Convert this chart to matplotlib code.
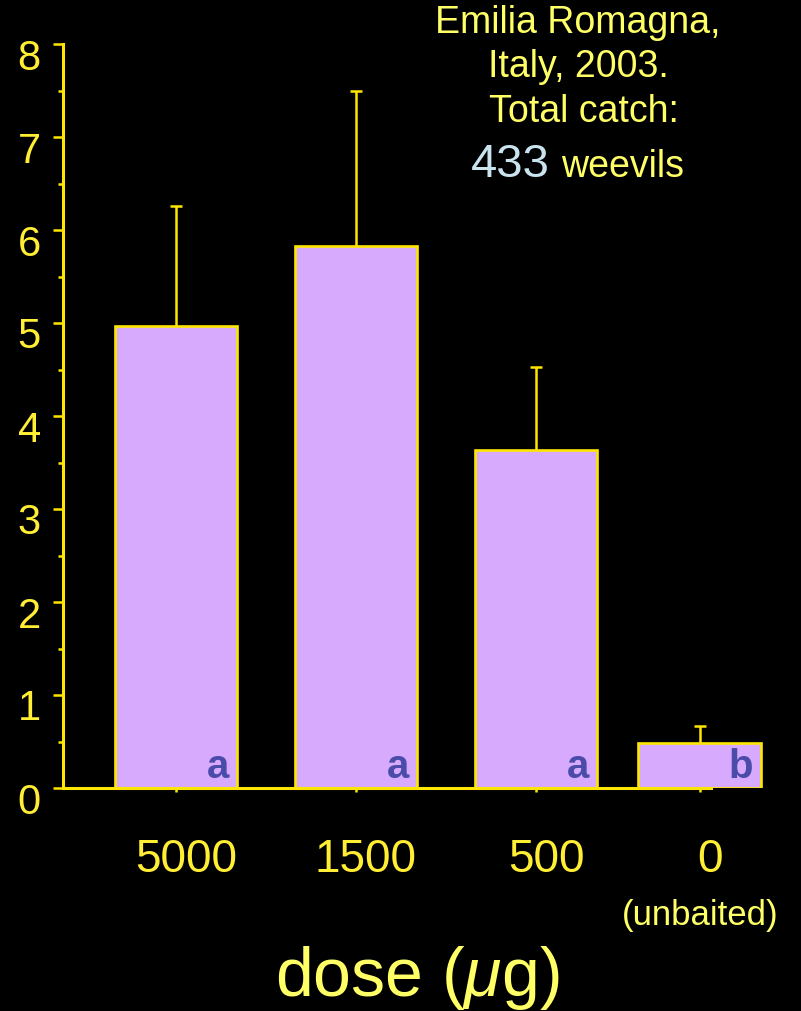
import matplotlib
matplotlib.use("Agg")
import matplotlib.pyplot as plt
import matplotlib.transforms as mtransforms

plt.rcParams['font.family'] = ['Liberation Sans', 'DejaVu Sans']
plt.rcParams['mathtext.fontset'] = 'custom'
plt.rcParams['mathtext.rm'] = 'Liberation Sans'
plt.rcParams['mathtext.it'] = 'Liberation Sans:italic'

doses = ["5000", "1500", "500", "0"]
mean_catch = [4.97, 5.83, 3.63, 0.48]
se_catch = [1.29, 1.66, 0.90, 0.19]
letters = ["a", "a", "a", "b"]

AXIS_YELLOW = "#FFE600"
TICK_YELLOW = "#FFEE33"
NOTE_YELLOW = "#FFFF66"
BAR_FILL = "#D7AAFE"
LETTER_BLUE = "#4B4BAA"

W, H = 801, 1012
x_pos = [0, 1, 2, 2.91]
bar_width = 0.683


def fx(px):
    return px / W


def fy(py):
    return 1 - py / H


fig = plt.figure(figsize=(W / 100, H / 100), dpi=100, facecolor="black")
ax = fig.add_axes([fx(63), fy(789), (780 - 63) / W, (789 - 45) / H])
ax.set_facecolor("black")

ax.bar(x_pos, mean_catch, width=bar_width, color=BAR_FILL,
       edgecolor=AXIS_YELLOW, linewidth=1.9, zorder=2)

eb = ax.errorbar(x_pos, mean_catch, yerr=[[0] * 4, se_catch], fmt="none",
                 ecolor=AXIS_YELLOW, elinewidth=1.8, capsize=4, capthick=1.8,
                 zorder=3)
# keep only the upper caps
for cap in eb[1]:
    if list(cap.get_ydata()) == list(mean_catch):
        cap.set_visible(False)

for x, letter in zip(x_pos, letters):
    ax.annotate(letter, (x + bar_width / 2, 0), xytext=(-6, 2),
                textcoords="offset points", ha="right", va="bottom",
                fontsize=29, fontweight="bold", color=LETTER_BLUE, zorder=4)

ax.set_xlim(-0.628, 3.356)
ax.set_ylim(0, 8)

for side in ["top", "right"]:
    ax.spines[side].set_visible(False)
for side in ["left", "bottom"]:
    ax.spines[side].set_color(AXIS_YELLOW)
    ax.spines[side].set_linewidth(2.2)
ax.spines["bottom"].set_bounds(-0.628, 2.97)

ax.set_yticks(range(0, 9))
ax.set_yticks([v + 0.5 for v in range(0, 8)], minor=True)
ax.set_xticks(x_pos)
ax.set_xticklabels(doses)

ax.tick_params(axis="y", which="major", length=7, width=1.8,
               color=AXIS_YELLOW, labelcolor=TICK_YELLOW, labelsize=30, pad=9)
ax.tick_params(axis="y", which="minor", length=3.5, width=1.8,
               color=AXIS_YELLOW)
ax.tick_params(axis="x", which="major", length=3, width=1.8,
               color=AXIS_YELLOW, labelcolor=TICK_YELLOW, labelsize=33, pad=32)

ydown = mtransforms.ScaledTranslation(0, -9 / 100, fig.dpi_scale_trans)
for tick in ax.yaxis.get_major_ticks():
    tick.label1.set_transform(tick.label1.get_transform() + ydown)
xright = mtransforms.ScaledTranslation(10 / 100, 0, fig.dpi_scale_trans)
for tick in ax.xaxis.get_major_ticks():
    tick.label1.set_transform(tick.label1.get_transform() + xright)

ax.annotate("(unbaited)", (x_pos[3], 0), xytext=(0, -98),
            textcoords="offset points", ha="center", va="baseline",
            fontsize=25, color=NOTE_YELLOW)

fig.text(fx(417), fy(996), "dose ($\\mu$g)", ha="center", va="baseline",
         fontsize=49, color=NOTE_YELLOW)

fig.text(fx(578), fy(33), "Emilia Romagna,", ha="center", va="baseline",
         fontsize=27, color=NOTE_YELLOW)
fig.text(fx(578), fy(77), "Italy, 2003.", ha="center", va="baseline",
         fontsize=27, color=NOTE_YELLOW)
fig.text(fx(584), fy(122), "Total catch:", ha="center", va="baseline",
         fontsize=27, color=NOTE_YELLOW)
fig.text(fx(550), fy(177), "433", ha="right", va="baseline",
         fontsize=34, color="#C9E4EE")
fig.text(fx(561), fy(177), "weevils", ha="left", va="baseline",
         fontsize=27, color=NOTE_YELLOW)

fig.savefig("out.png", dpi=100, facecolor="black")
